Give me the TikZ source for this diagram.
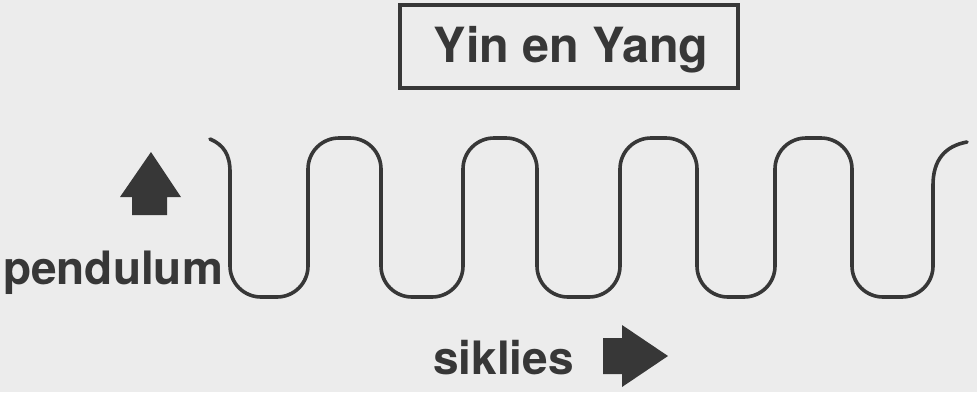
\documentclass[tikz,border=0pt]{standalone}
\usepackage{fontspec}
\newfontfamily\hv{TeX Gyre Heros}
\definecolor{paper}{RGB}{236,236,236}
\definecolor{ink}{RGB}{55,55,55}
\begin{document}
\begin{tikzpicture}[x=1pt,y=-1pt,
  wave/.style={draw=ink,line width=3.6pt,line cap=round,line join=round},
  lbl/.style={text=ink,inner sep=0pt,font=\hv\bfseries\fontsize{46}{48}\selectfont},
  titlebox/.style={draw=ink,line width=3.6pt},
  blockarrow/.style={fill=ink,draw=none}]
\fill[paper] (0,0) rectangle (977,392);
\useasboundingbox (0,0) rectangle (977,392);
% title
\draw[titlebox] (400,5) rectangle (738,88);
\node[lbl,anchor=base,font=\hv\bfseries\fontsize{48.5}{50}\selectfont] (title) at (571,62) {Yin en Yang};
% meander
\draw[wave] (210,139) .. controls (224,145) and (230,155) .. (230,172)
  [rounded corners=31pt] -- (230,297) -- (308,297) -- (308,138) -- (381,138) -- (381,297)
  -- (463,297) -- (463,138) -- (537,138) -- (537,297) -- (620,297) -- (620,138)
  -- (697,138) -- (697,297) -- (775,297) -- (775,138) -- (852,138) -- (852,297)
  -- (933,297) [sharp corners] -- (933,185) .. controls (933,160) and (945,146) .. (967,142);
% up arrow
\fill[blockarrow] (151,152) -- (181,197) -- (167,197) -- (167,215) -- (132,215) -- (132,197) -- (120,197) -- cycle;
% right arrow
\fill[blockarrow] (668,356) -- (622,387) -- (622,374) -- (603,374) -- (603,338) -- (622,338) -- (622,325) -- cycle;
% labels
\node[lbl,anchor=base west] (pend) at (3,284) {pendulum};
\node[lbl,anchor=base west] (sik) at (433,374) {siklies};
\end{tikzpicture}
\end{document}
